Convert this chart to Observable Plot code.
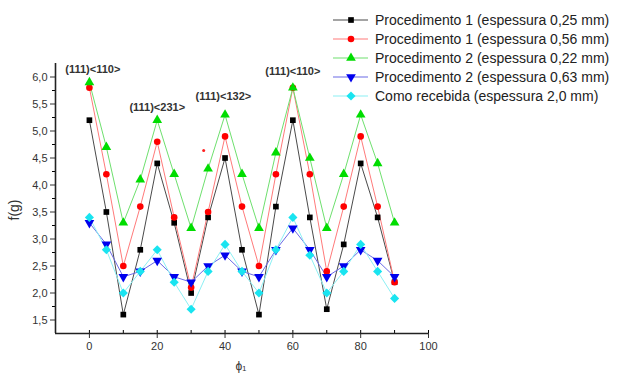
<!DOCTYPE html>
<html>
<head>
<meta charset="utf-8">
<script src="https://cdn.jsdelivr.net/npm/d3@7"></script>
<script src="https://cdn.jsdelivr.net/npm/@observablehq/plot@0.6"></script>
<style>
  html, body { margin: 0; padding: 0; background: #fff; }
  #wrap { position: relative; width: 617px; height: 375px; font-family: "Liberation Sans", Arial, sans-serif; }
  #legend { position: absolute; left: 331px; top: 11px; }
  .row { display: flex; align-items: center; height: 18.8px; }
  .row span { font-size: 14px; color: #222; margin-left: 6px; white-space: nowrap; }
</style>
</head>
<body>
<div id="wrap"><div id="chart"></div><div id="legend"></div></div>
<script>
// ---- data ----
const phi = [0, 5, 10, 15, 20, 25, 30, 35, 40, 45, 50, 55, 60, 65, 70, 75, 80, 85, 90];
const proc1_025 = [5.2, 3.5, 1.6, 2.8, 4.4, 3.3, 2.0, 3.4, 4.5, 2.8, 1.6, 3.6, 5.2, 3.4, 1.7, 2.9, 4.4, 3.4, 2.2];
const proc1_056 = [5.8, 4.2, 2.5, 3.6, 4.8, 3.4, 2.1, 3.5, 4.9, 3.6, 2.5, 4.2, 5.8, 4.2, 2.4, 3.6, 4.9, 3.6, 2.2];
const proc2_022 = [5.9, 4.7, 3.3, 4.1, 5.2, 4.2, 3.2, 4.3, 5.3, 4.2, 3.2, 4.6, 5.8, 4.5, 3.2, 4.2, 5.3, 4.4, 3.3];
const proc2_063 = [3.3, 2.9, 2.3, 2.4, 2.6, 2.3, 2.2, 2.5, 2.7, 2.4, 2.3, 2.8, 3.2, 2.8, 2.3, 2.5, 2.8, 2.6, 2.3];
const recebida  = [3.4, 2.8, 2.0, 2.4, 2.8, 2.2, 1.7, 2.4, 2.9, 2.4, 2.0, 2.8, 3.4, 2.7, 2.0, 2.4, 2.9, 2.4, 1.9];

const seriesNames = [
  "Procedimento 1 (espessura 0,25 mm)",
  "Procedimento 1 (espessura 0,56 mm)",
  "Procedimento 2 (espessura 0,22 mm)",
  "Procedimento 2 (espessura 0,63 mm)",
  "Como recebida (espessura 2,0 mm)"
];
const seriesValues = [proc1_025, proc1_056, proc2_022, proc2_063, recebida];

// peak annotations (phi, f, text)
const annPhi = [1, 20, 39.5, 60];
const annF = [6.14, 5.44, 5.64, 6.11];
const annText = ["(111)<110>", "(111)<231>", "(111)<132>", "(111)<110>"];

// small stray red dot visible in the reference
const strayPhi = [33.7];
const strayF = [4.64];

const yMajor = [1.5, 2.0, 2.5, 3.0, 3.5, 4.0, 4.5, 5.0, 5.5, 6.0];
const yMinor = [1.75, 2.25, 2.75, 3.25, 3.75, 4.25, 4.75, 5.25, 5.75];
const xMajor = [0, 20, 40, 60, 80, 100];
const xMinor = [10, 30, 50, 70, 90];

// ---- styles ----
const styles = [
  {line: "#4a4a4a", fill: "#000000", symbol: "square", rotate: 0, r: 3.2},
  {line: "#ff7a7a", fill: "#ff0000", symbol: "circle", rotate: 0, r: 3.3},
  {line: "#6ee06e", fill: "#00dd00", symbol: "triangle", rotate: 0, r: 3.6},
  {line: "#6a6ae6", fill: "#0000ee", symbol: "triangle", rotate: 180, r: 3.6},
  {line: "#8cf0f4", fill: "#19e4f0", symbol: "diamond2", rotate: 0, r: 4.1}
];

const tables = seriesValues.map((vals, i) => phi.map((p, j) => ({phi: p, f: vals[j], s: seriesNames[i]})));
const annotations = annText.map((t, i) => ({phi: annPhi[i], f: annF[i], text: t}));
const stray = strayPhi.map((p, i) => ({phi: p, f: strayF[i]}));

const comma = d => d.toFixed(1).replace(".", ",");

const marks = [];
tables.forEach((t, i) => {
  const st = styles[i];
  marks.push(Plot.line(t, {x: "phi", y: "f", stroke: st.line, strokeWidth: 1}));
});
tables.forEach((t, i) => {
  const st = styles[i];
  marks.push(Plot.dot(t, {x: "phi", y: "f", symbol: () => st.symbol, fill: st.fill, stroke: "none", r: st.r, rotate: st.rotate}));
});
marks.push(Plot.dot(stray, {x: "phi", y: "f", fill: "#ff2020", r: 1.5}));
marks.push(Plot.text(annotations, {x: "phi", y: "f", text: "text", fontSize: 11, fill: "#333", fontWeight: 600}));

// axes
marks.push(Plot.axisY({ticks: yMajor, tickSize: 5, tickFormat: comma, fontSize: 11, color: "#333", tickPadding: 3, label: null}));
marks.push(Plot.axisY({ticks: yMinor, tickSize: 3, tickFormat: () => "", label: null}));
marks.push(Plot.axisX({ticks: xMajor, tickSize: 5, fontSize: 11, color: "#333", tickPadding: 4, label: null}));
marks.push(Plot.axisX({ticks: xMajor, tickSize: -3, tickFormat: () => "", label: null}));
marks.push(Plot.axisX({ticks: xMinor, tickSize: -3, tickFormat: () => "", label: null}));
marks.push(Plot.ruleX([-10], {stroke: "#222", strokeWidth: 1.6}));
marks.push(Plot.ruleY([1.25], {stroke: "#222", strokeWidth: 1.6}));

const chart = Plot.plot({
  width: 617,
  height: 375,
  marginLeft: 55,
  marginRight: 189,
  marginTop: 63,
  marginBottom: 42,
  style: {fontFamily: "'Liberation Sans', Arial, sans-serif", background: "#fff", overflow: "visible"},
  x: {domain: [-10, 100], label: null},
  y: {domain: [1.25, 6.25], label: null},
  symbol: {type: "identity"},
  marks
});

// axis titles as SVG text inside the plot
const svg = d3.select(chart);
svg.append("text")
  .attr("transform", "translate(19,210) rotate(-90)")
  .attr("text-anchor", "middle")
  .attr("font-size", 14)
  .attr("fill", "#333")
  .text("f(g)");
svg.append("text")
  .attr("x", 241).attr("y", 370)
  .attr("text-anchor", "middle")
  .attr("font-size", 12)
  .attr("fill", "#333")
  .text("ϕ₁");

document.getElementById("chart").appendChild(chart);

// legend
const legend = d3.select("#legend");
seriesNames.forEach((name, i) => {
  const st = styles[i];
  const row = legend.append("div").attr("class", "row");
  const s = row.append("svg").attr("width", 38).attr("height", 12);
  s.append("line").attr("x1", 2).attr("x2", 37).attr("y1", 6).attr("y2", 6).attr("stroke", st.line).attr("stroke-width", 1.2);
  const symType = {square: d3.symbolSquare, circle: d3.symbolCircle, triangle: d3.symbolTriangle, diamond2: d3.symbolDiamond2}[st.symbol];
  s.append("path")
    .attr("d", d3.symbol(symType, Math.PI * st.r * st.r)())
    .attr("transform", `translate(20,6) rotate(${st.rotate})`)
    .attr("fill", st.fill);
  row.append("span").text(name);
});
</script>
</body>
</html>
